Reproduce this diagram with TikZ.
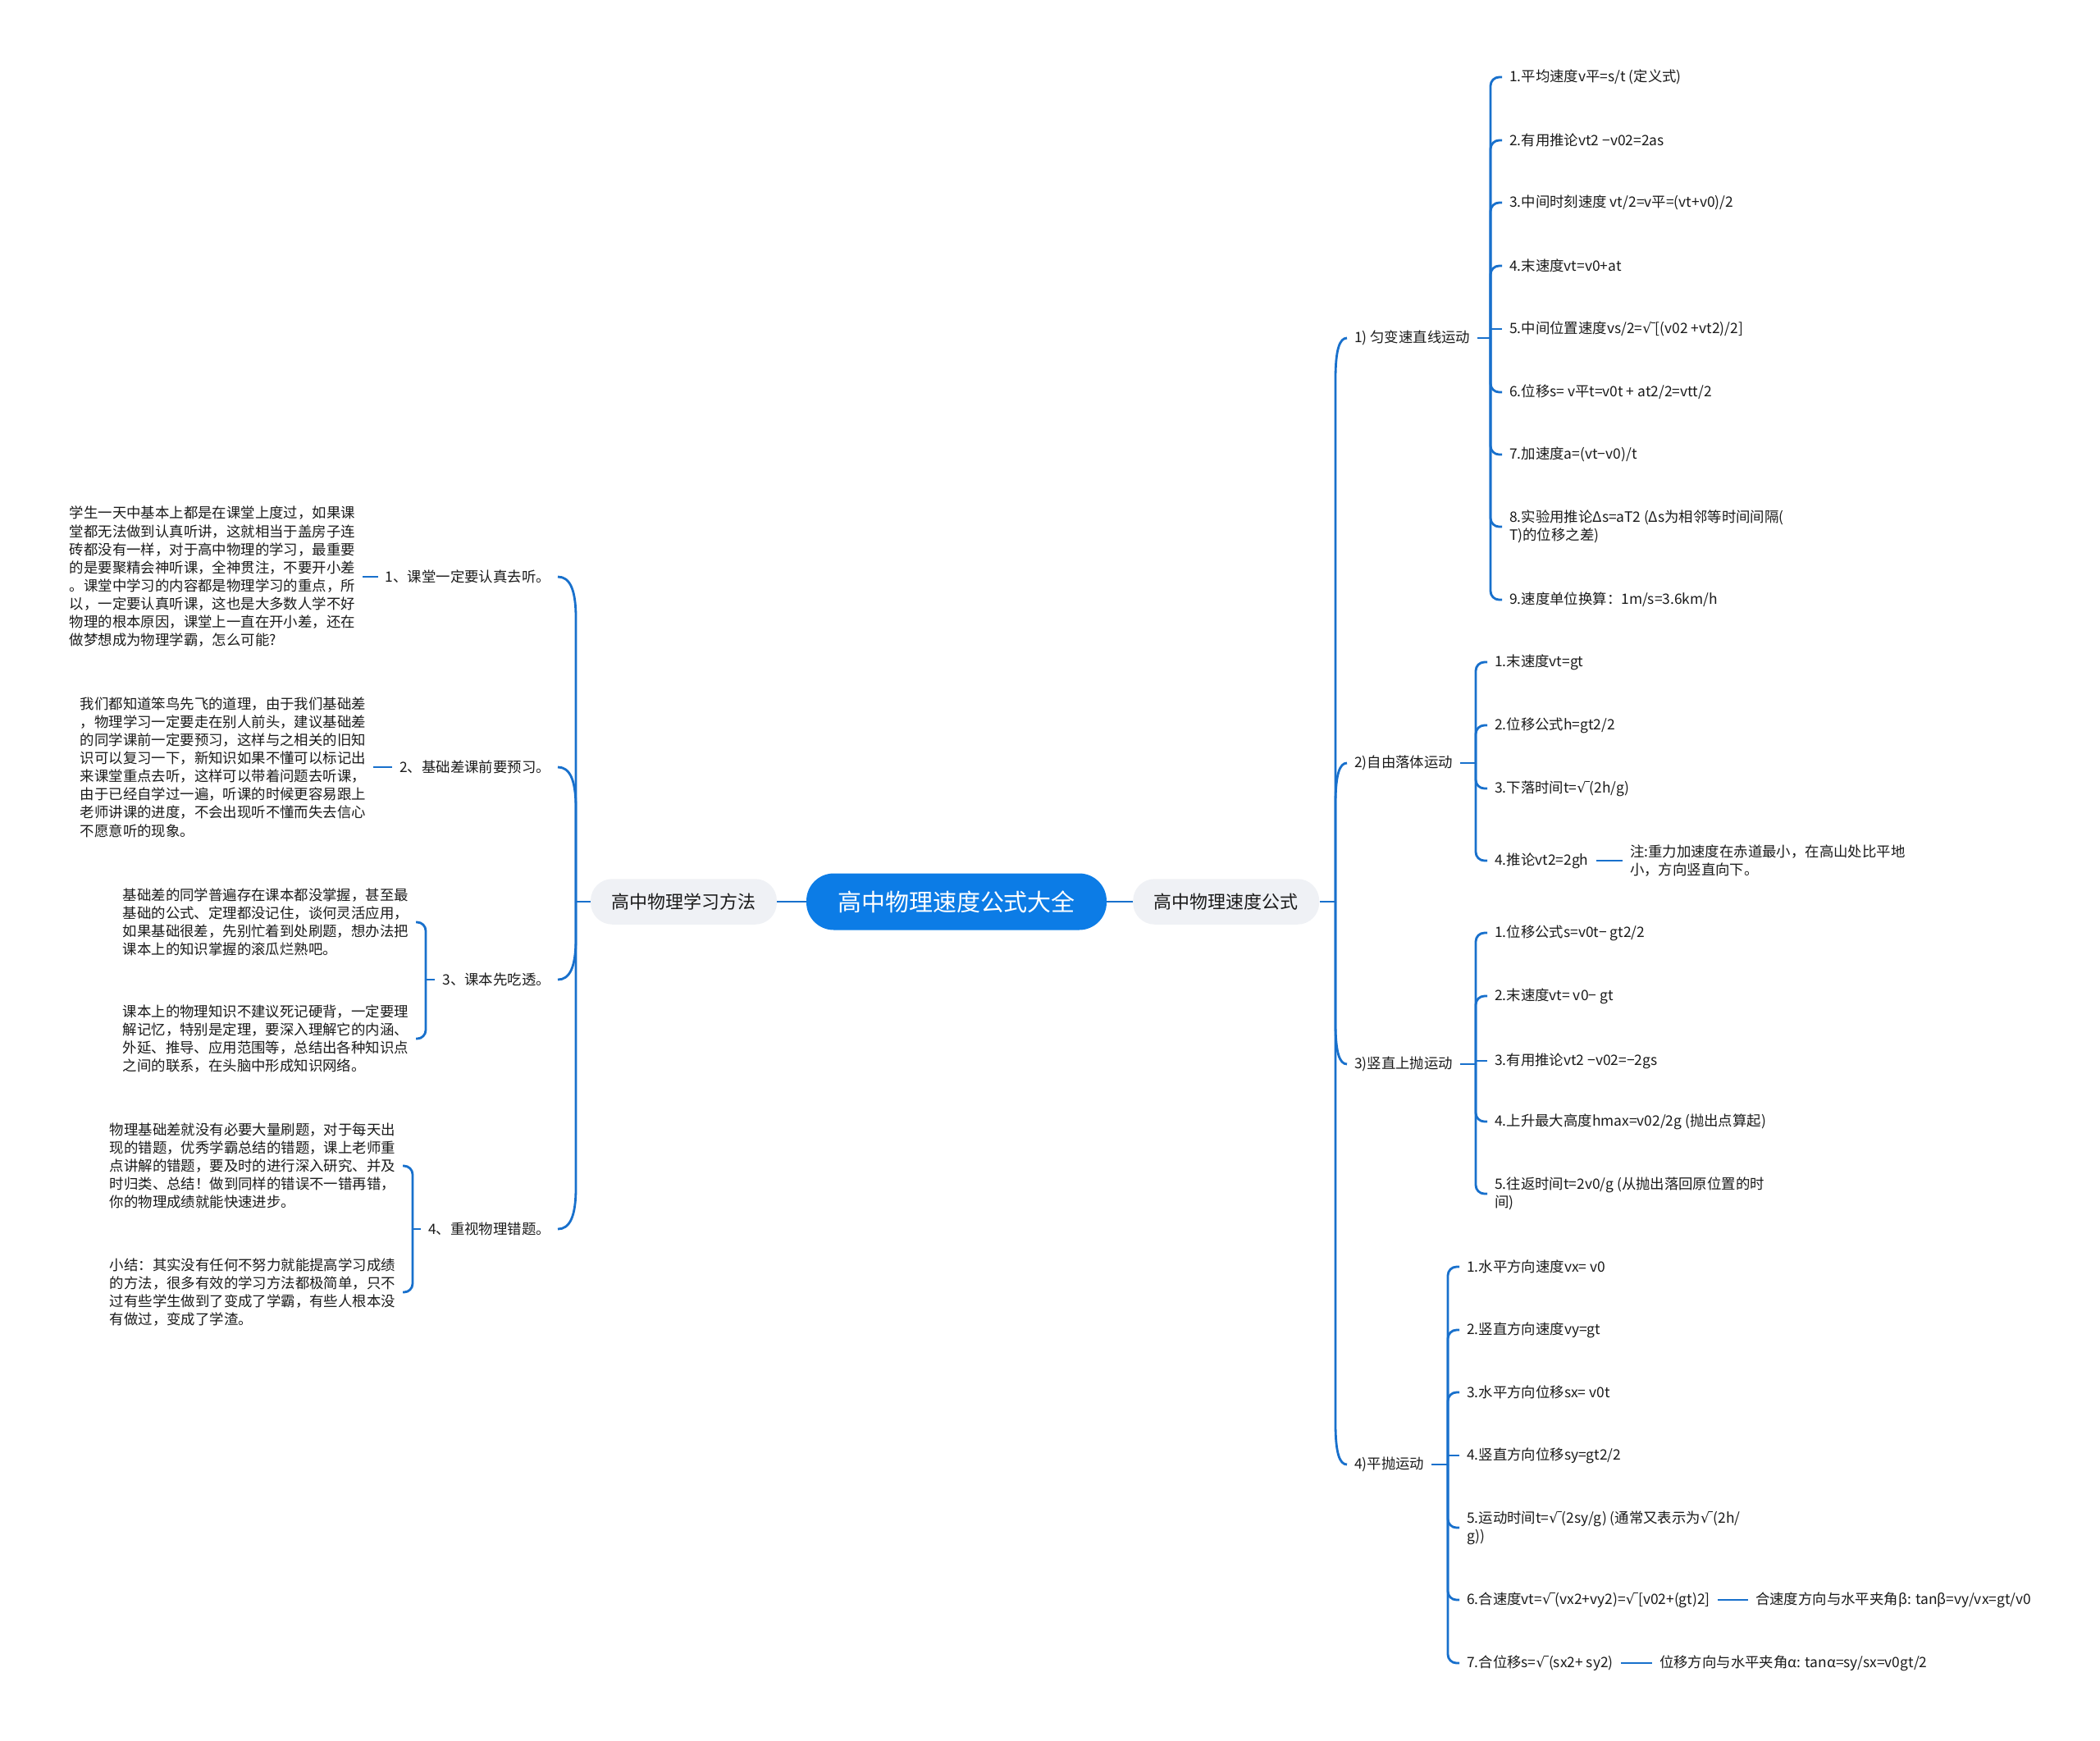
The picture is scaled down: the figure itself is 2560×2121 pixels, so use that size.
\documentclass[tikz,border=0pt]{standalone}
\usepackage{fontspec}
\setmainfont{Noto Sans CJK SC}
\newfontfamily\symfont{DejaVu Sans}
\usepackage{tikz}
\usetikzlibrary{positioning}
\definecolor{mapline}{RGB}{24,112,204}
\definecolor{rootblue}{RGB}{12,124,230}
\definecolor{topicgray}{RGB}{239,241,245}
\definecolor{inkgray}{RGB}{26,26,26}
\newcommand{\sqrtmark}{{\symfont √}\kern-0.05em\rule[0.74em]{0.3em}{0.06em}}

\begin{document}
\begin{tikzpicture}[
    x=0.02cm, y=-0.02cm,
    txt/.style={inner sep=5pt, align=left, font=\fontsize{9.9}{12.6}\selectfont, text=inkgray},
    root/.style={rectangle, rounded corners=19pt, fill=rootblue, text=white, minimum width=7.32cm, minimum height=1.38cm, font=\fontsize{16.5}{20}\selectfont},
    topic/.style={rectangle, rounded corners=15pt, fill=topicgray, text=inkgray, minimum width=4.54cm, minimum height=1.11cm, font=\fontsize{12.5}{15}\selectfont},
    link/.style={draw=mapline, line width=1.6pt},
    brace/.style={link, rounded corners=6pt}
]
\useasboundingbox (0,0) rectangle (2560,2121);

% centre and the two main topics
\node[root] (root) at (1166,1099) {高中物理速度公式大全};
\node[topic] (lmain) at (833.5,1099) {高中物理学习方法};
\node[topic] (rmain) at (1494.7,1099) {高中物理速度公式};
\draw[link] (root) -- (lmain);
\draw[link] (root) -- (rmain);

% right side: four kinds of motion
\node[txt, anchor=west] (r1) at (1642,412) {1) 匀变速直线运动};
\node[txt, anchor=west] (r2) at (1642,930) {2)自由落体运动};
\node[txt, anchor=west] (r3) at (1642,1297) {3)竖直上抛运动};
\node[txt, anchor=west] (r4) at (1642,1785) {4)平抛运动};
\coordinate (rfork) at (1628,1099);
\draw[link] (rmain.east) -- (rfork);
\foreach \k/\s in {r1/1,r2/1,r3/-1,r4/-1}
    \draw[link] (rfork) -- ([shift={(-14,50*\s)}]\k.west)
        .. controls ([shift={(-14,14*\s)}]\k.west) and ([shift={(-9,0)}]\k.west) .. (\k.west);

% 1) uniform acceleration
\node[txt, anchor=west] (u1) at (1831,94) {1.平均速度v平=s/t (定义式)};
\node[txt, anchor=west] (u2) at (1831,171) {2.有用推论vt2 −v02=2as};
\node[txt, anchor=west] (u3) at (1831,247) {3.中间时刻速度 vt/2=v平=(vt+v0)/2};
\node[txt, anchor=west] (u4) at (1831,324) {4.末速度vt=v0+at};
\node[txt, anchor=west] (u5) at (1831,401) {5.中间位置速度vs/2=\sqrtmark[(v02 +vt2)/2]};
\node[txt, anchor=west] (u6) at (1831,478) {6.位移s= v平t=v0t + at2/2=vtt/2};
\node[txt, anchor=west] (u7) at (1831,554) {7.加速度a=(vt−v0)/t};
\node[txt, anchor=west] (u8) at (1831,642) {8.实验用推论Δs=aT2 (Δs为相邻等时间间隔(\\T)的位移之差)};
\node[txt, anchor=west] (u9) at (1831,731) {9.速度单位换算：1m/s=3.6km/h};
\coordinate (ufork) at (1817,412);
\draw[link] (r1.east) -- (ufork);
\foreach \k in {u1,u2,u3,u4,u6,u7,u8,u9}
    \draw[brace] (ufork) |- (\k.west);
\draw[link] (ufork) |- (u5.west);

% 2) free fall
\node[txt, anchor=west] (f1) at (1813,807) {1.末速度vt=gt};
\node[txt, anchor=west] (f2) at (1813,884) {2.位移公式h=gt2/2};
\node[txt, anchor=west] (f3) at (1813,961) {3.下落时间t=\sqrtmark(2h/g)};
\node[txt, anchor=west] (f4) at (1813,1049) {4.推论vt2=2gh};
\node[txt, anchor=west] (fnote) at (1978,1049) {注:重力加速度在赤道最小，在高山处比平地\\小，方向竖直向下。};
\coordinate (ffork) at (1799,930);
\draw[link] (r2.east) -- (ffork);
\foreach \k in {f1,f2,f3,f4}
    \draw[brace] (ffork) |- (\k.west);
\draw[link] (f4) -- (fnote);

% 3) vertical throw
\node[txt, anchor=west] (v1) at (1813,1137) {1.位移公式s=v0t− gt2/2};
\node[txt, anchor=west] (v2) at (1813,1214) {2.末速度vt= v0− gt};
\node[txt, anchor=west] (v3) at (1813,1293) {3.有用推论vt2 −v02=−2gs};
\node[txt, anchor=west] (v4) at (1813,1367) {4.上升最大高度hmax=v02/2g (抛出点算起)};
\node[txt, anchor=west] (v5) at (1813,1455) {5.往返时间t=2v0/g (从抛出落回原位置的时\\间)};
\coordinate (vfork) at (1799,1297);
\draw[link] (r3.east) -- (vfork);
\foreach \k in {v1,v2,v4,v5}
    \draw[brace] (vfork) |- (\k.west);
\draw[link] (vfork) |- (v3.west);

% 4) projectile
\node[txt, anchor=west] (p1) at (1779,1544) {1.水平方向速度vx= v0};
\node[txt, anchor=west] (p2) at (1779,1621) {2.竖直方向速度vy=gt};
\node[txt, anchor=west] (p3) at (1779,1697) {3.水平方向位移sx= v0t};
\node[txt, anchor=west] (p4) at (1779,1774) {4.竖直方向位移sy=gt2/2};
\node[txt, anchor=west] (p5) at (1779,1862) {5.运动时间t=\sqrtmark(2sy/g) (通常又表示为\sqrtmark(2h/\\g))};
\node[txt, anchor=west] (p6) at (1779,1950) {6.合速度vt=\sqrtmark(vx2+vy2)=\sqrtmark[v02+(gt)2]};
\node[txt, anchor=west] (p7) at (1779,2027) {7.合位移s=\sqrtmark(sx2+ sy2)};
\node[txt, anchor=west] (pnote6) at (2131,1950) {合速度方向与水平夹角β: tanβ=vy/vx=gt/v0};
\node[txt, anchor=west] (pnote7) at (2014,2027) {位移方向与水平夹角α: tanα=sy/sx=v0gt/2};
\coordinate (pfork) at (1765,1785);
\draw[link] (r4.east) -- (pfork);
\foreach \k in {p1,p2,p3,p5,p6,p7}
    \draw[brace] (pfork) |- (\k.west);
\draw[link] (pfork) |- (p4.west);
\draw[link] (p6) -- (pnote6);
\draw[link] (p7) -- (pnote7);

% left side: study methods
\node[txt, anchor=east] (l1) at (680,703) {1、课堂一定要认真去听。};
\node[txt, anchor=east] (l2) at (680,935) {2、基础差课前要预习。};
\node[txt, anchor=east] (l3) at (680,1194) {3、课本先吃透。};
\node[txt, anchor=east] (l4) at (680,1498) {4、重视物理错题。};
\coordinate (lfork) at (702,1099);
\draw[link] (lmain.west) -- (lfork);
\foreach \k/\s in {l1/1,l2/1,l3/-1,l4/-1}
    \draw[link] (lfork) -- ([shift={(22,50*\s)}]\k.east)
        .. controls ([shift={(22,14*\s)}]\k.east) and ([shift={(14,0)}]\k.east) .. (\k.east);

\node[txt, anchor=east] (d1) at (442,703) {学生一天中基本上都是在课堂上度过，如果课\\
堂都无法做到认真听讲，这就相当于盖房子连\\
砖都没有一样，对于高中物理的学习，最重要\\
的是要聚精会神听课，全神贯注，不要开小差\\
。课堂中学习的内容都是物理学习的重点，所\\
以，一定要认真听课，这也是大多数人学不好\\
物理的根本原因，课堂上一直在开小差，还在\\
做梦想成为物理学霸，怎么可能?};
\draw[link] (l1) -- (d1);

\node[txt, anchor=east] (d2) at (455,935) {我们都知道笨鸟先飞的道理，由于我们基础差\\
，物理学习一定要走在别人前头，建议基础差\\
的同学课前一定要预习，这样与之相关的旧知\\
识可以复习一下，新知识如果不懂可以标记出\\
来课堂重点去听，这样可以带着问题去听课，\\
由于已经自学过一遍，听课的时候更容易跟上\\
老师讲课的进度，不会出现听不懂而失去信心\\
不愿意听的现象。};
\draw[link] (l2) -- (d2);

\node[txt, anchor=east] (d3a) at (507,1124) {基础差的同学普遍存在课本都没掌握，甚至最\\
基础的公式、定理都没记住，谈何灵活应用，\\
如果基础很差，先别忙着到处刷题，想办法把\\
课本上的知识掌握的滚瓜烂熟吧。};
\node[txt, anchor=east] (d3b) at (507,1266) {课本上的物理知识不建议死记硬背，一定要理\\
解记忆，特别是定理，要深入理解它的内涵、\\
外延、推导、应用范围等，总结出各种知识点\\
之间的联系，在头脑中形成知识网络。};
\coordinate (l3fork) at (519,1194);
\draw[link] (l3.west) -- (l3fork);
\draw[brace] (l3fork) |- (d3a.east);
\draw[brace] (l3fork) |- (d3b.east);

\node[txt, anchor=east] (d4a) at (491,1421) {物理基础差就没有必要大量刷题，对于每天出\\
现的错题，优秀学霸总结的错题，课上老师重\\
点讲解的错题，要及时的进行深入研究、并及\\
时归类、总结！做到同样的错误不一错再错，\\
你的物理成绩就能快速进步。};
\node[txt, anchor=east] (d4b) at (491,1575) {小结：其实没有任何不努力就能提高学习成绩\\
的方法，很多有效的学习方法都极简单，只不\\
过有些学生做到了变成了学霸，有些人根本没\\
有做过，变成了学渣。};
\coordinate (l4fork) at (503,1498);
\draw[link] (l4.west) -- (l4fork);
\draw[brace] (l4fork) |- (d4a.east);
\draw[brace] (l4fork) |- (d4b.east);
\end{tikzpicture}
\end{document}
